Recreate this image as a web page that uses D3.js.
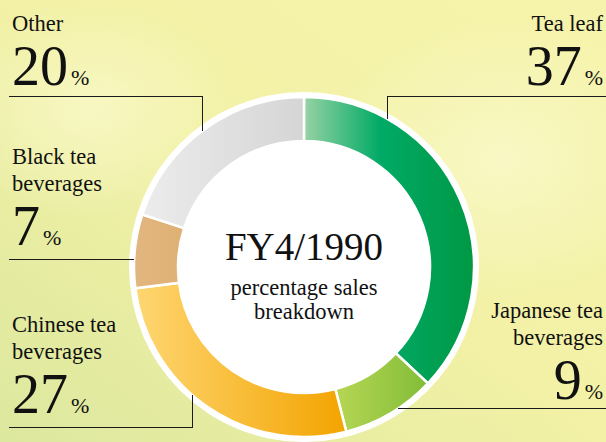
<!DOCTYPE html>
<html>
<head>
<meta charset="utf-8">
<script src="https://cdn.jsdelivr.net/npm/d3@7"></script>
<style>
  html, body { margin: 0; padding: 0; background: #f3f2a8; }
  svg { display: block; }
  text { font-family: "Liberation Serif", "DejaVu Serif", serif; fill: #111; }
</style>
</head>
<body>
<svg id="chart" width="606" height="442"></svg>
<script>
// ---- data ----
const categories = ["Tea leaf", "Japanese tea beverages", "Chinese tea beverages", "Black tea beverages", "Other"];
const labelLines = [["Tea leaf"], ["Japanese tea", "beverages"], ["Chinese tea", "beverages"], ["Black tea", "beverages"], ["Other"]];
const values = [37, 9, 27, 7, 20];
const centerTitle = "FY4/1990";
const centerSub = ["percentage sales", "breakdown"];

// ---- styles / layout ----
const gradStops = [
  [["0%", "#97d2a4"], ["45%", "#00aa66"], ["100%", "#009844"]],
  [["0%", "#b6d655"], ["100%", "#82bd38"]],
  [["0%", "#fed672"], ["100%", "#f3a400"]],
  [["0%", "#e2b681"], ["100%", "#deb073"]],
  [["0%", "#ececec"], ["100%", "#d5d5d5"]]
];
// label layout: x anchor, anchor side, first line baseline, elbow of leader line
const layout = [
  {x: 603, anchor: "end",   y: 31,  line: {hy: 96.5,  x0: 606, vx: 387.5, dir: "v"}},
  {x: 603, anchor: "end",   y: 318, line: {hy: 408.5, x0: 606, dir: "h"}},
  {x: 12,  anchor: "start", y: 332, line: {hy: 427.5, x0: 9,   vx: 192.5, dir: "v"}},
  {x: 12,  anchor: "start", y: 164, line: {hy: 259.5, x0: 9,   dir: "h"}},
  {x: 12,  anchor: "start", y: 31,  line: {hy: 96.5,  x0: 9,   vx: 202.5, dir: "v"}}
];

const W = 606, H = 442;
const cx = 304, cy = 267;
const rOuter = 170, rInner = 126, rWhite = 175;

const svg = d3.select("#chart");
const defs = svg.append("defs");

// background
const bg = defs.append("linearGradient").attr("id", "bg")
  .attr("x1", "1").attr("y1", "0").attr("x2", "0").attr("y2", "1");
bg.append("stop").attr("offset", "0%").attr("stop-color", "#f6f4ac");
bg.append("stop").attr("offset", "50%").attr("stop-color", "#f2f1a6");
bg.append("stop").attr("offset", "100%").attr("stop-color", "#dce89e");
svg.append("rect").attr("width", W).attr("height", H).attr("fill", "url(#bg)");
const glow = defs.append("radialGradient").attr("id", "glow");
glow.append("stop").attr("offset", "0%").attr("stop-color", "#fbfad0").attr("stop-opacity", 0.7);
glow.append("stop").attr("offset", "100%").attr("stop-color", "#fbfad0").attr("stop-opacity", 0);
svg.append("ellipse").attr("cx", 500).attr("cy", 160).attr("rx", 180).attr("ry", 140).attr("fill", "url(#glow)");
svg.append("ellipse").attr("cx", 90).attr("cy", 110).attr("rx", 150).attr("ry", 110).attr("fill", "url(#glow)");

// segment gradients
gradStops.forEach((stops, i) => {
  const g = defs.append("linearGradient").attr("id", "seg" + i)
    .attr("x1", "0").attr("y1", "0").attr("x2", "1").attr("y2", "0");
  stops.forEach(s => g.append("stop").attr("offset", s[0]).attr("stop-color", s[1]));
});

const chart = svg.append("g").attr("transform", `translate(${cx},${cy})`);
chart.append("circle").attr("r", rWhite).attr("fill", "#ffffff");

const pie = d3.pie().sort(null).value(d => d)(values);
const arc = d3.arc().innerRadius(rInner).outerRadius(rOuter);
chart.selectAll("path.seg").data(pie).join("path")
  .attr("class", "seg")
  .attr("d", arc)
  .attr("fill", (d, i) => `url(#seg${i})`)
  .attr("stroke", "#ffffff").attr("stroke-width", 2.5);

// center text
chart.append("text").attr("text-anchor", "middle").attr("y", -7)
  .attr("font-size", 39).text(centerTitle);
centerSub.forEach((t, i) => {
  chart.append("text").attr("text-anchor", "middle").attr("y", 28 + i * 24)
    .attr("font-size", 22.5).text(t);
});

// leader lines (end on the outer radius of the ring)
const lines = svg.append("g").attr("stroke", "#1a1a1a").attr("stroke-width", 1)
  .attr("fill", "none").attr("shape-rendering", "crispEdges");
layout.forEach(l => {
  const L = l.line;
  let pts;
  if (L.dir === "v") {
    const dx = L.vx - cx;
    const dy = Math.sqrt(rOuter * rOuter - dx * dx);
    const yEnd = L.hy < cy ? cy - dy : cy + dy;
    pts = [[L.x0, L.hy], [L.vx, L.hy], [L.vx, yEnd]];
  } else {
    const dy = L.hy - cy;
    const dx = Math.sqrt(rOuter * rOuter - dy * dy);
    const xEnd = L.x0 < cx ? cx - dx : cx + dx;
    pts = [[L.x0, L.hy], [xEnd, L.hy]];
  }
  lines.append("path").attr("d", d3.line()(pts));
});

// labels
const lineGap = 26.5;
labelLines.forEach((lines_, i) => {
  const l = layout[i];
  lines_.forEach((t, j) => {
    svg.append("text").attr("x", l.x).attr("y", l.y + j * lineGap)
      .attr("text-anchor", l.anchor).attr("font-size", 22.5).text(t);
  });
  const numY = l.y + (lines_.length - 1) * lineGap + 54;
  const txt = svg.append("text").attr("x", l.x).attr("y", numY).attr("text-anchor", l.anchor);
  txt.append("tspan").attr("font-size", 56).text(values[i]);
  txt.append("tspan").attr("font-size", 22).attr("dx", 3).text("%");
});
</script>
</body>
</html>
